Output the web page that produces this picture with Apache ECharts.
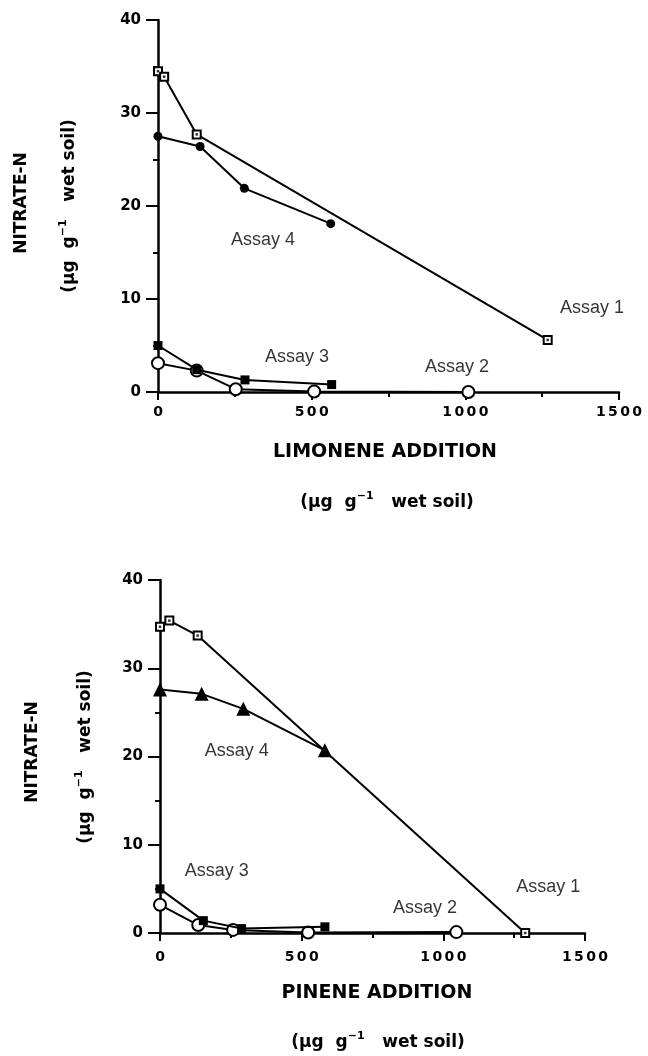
<!DOCTYPE html>
<html><head><meta charset="utf-8">
<script src="https://cdn.jsdelivr.net/npm/echarts/dist/echarts.min.js"></script>
<style>html,body{margin:0;padding:0;background:#fff}#c{width:648px;height:1056px}</style>
</head><body><div id="c"></div>
<script>
// ---------- DATA ----------
// Top panel: limonene addition (µg g-1 wet soil) vs nitrate-N
const limAssay1X = [0, 20, 126, 1268];
const limAssay1Y = [34.5, 33.9, 27.7, 5.6];
const limAssay4X = [0, 137, 281, 562];
const limAssay4Y = [27.5, 26.4, 21.9, 18.1];
const limAssay3X = [0, 126, 283, 565];
const limAssay3Y = [5.0, 2.4, 1.3, 0.8];
const limAssay2X = [0, 126, 253, 508, 1010];
const limAssay2Y = [3.1, 2.3, 0.3, 0.05, 0];
// Bottom panel: pinene addition
const pinAssay1X = [0, 33, 133, 1289];
const pinAssay1Y = [34.7, 35.4, 33.7, 0];
const pinAssay4X = [0, 147, 294, 582];
const pinAssay4Y = [27.6, 27.1, 25.4, 20.7];
const pinAssay3X = [0, 153, 288, 582];
const pinAssay3Y = [5.0, 1.4, 0.5, 0.7];
const pinAssay2X = [0, 135, 258, 523, 1046];
const pinAssay2Y = [3.2, 0.9, 0.35, 0.05, 0.1];
// Annotation labels (data coordinates)
const limLabels = [[342, 16.3, 'Assay 4'], [452, 3.8, 'Assay 3'], [973, 2.7, 'Assay 2'], [1412, 9.0, 'Assay 1']];
const pinLabels = [[271, 20.6, 'Assay 4'], [200, 7.0, 'Assay 3'], [935, 2.8, 'Assay 2'], [1370, 5.2, 'Assay 1']];
// Axis settings
const xMin = 0, xMax = 1500, xStep = 500;
const yMin = 0, yMax = 40, yStep = 10;
const topXTitle = 'LIMONENE ADDITION';
const botXTitle = 'PINENE ADDITION';
const yTitle = 'NITRATE-N';

// ---------- CHART ----------
const FONT = '"Liberation Sans", Arial, Helvetica, sans-serif';
const WIDE = '"DejaVu Sans", "Liberation Sans", Arial, sans-serif';
const pairs = (xs, ys) => xs.map((x, i) => [x, ys[i]]);

function xAxis(gi, margin) {
  return {
    type: 'value', gridIndex: gi, min: xMin, max: xMax, interval: xStep,
    axisLine: { show: true, onZero: false, lineStyle: { color: '#000', width: 2.5 } },
    axisTick: { show: true, length: 8, lineStyle: { color: '#000', width: 2 } },
    minorTick: { show: true, splitNumber: 2, length: 5, lineStyle: { color: '#000', width: 2 } },
    splitLine: { show: false }, minorSplitLine: { show: false },
    axisLabel: {
      margin: margin, color: '#000',
      formatter: v => String(v).split('').map(d => '{d|' + d + '}').join(''),
      rich: { d: { fontFamily: WIDE, fontWeight: 'bold', fontSize: 14, color: '#000', padding: [0, 1.2] } }
    }
  };
}
function yAxis(gi, size) {
  return {
    type: 'value', gridIndex: gi, min: yMin, max: yMax, interval: yStep,
    axisLine: { show: true, onZero: false, lineStyle: { color: '#000', width: 2.5 } },
    axisTick: { show: true, length: 12, lineStyle: { color: '#000', width: 2 } },
    minorTick: { show: true, splitNumber: 2, length: 5, lineStyle: { color: '#000', width: 2 } },
    splitLine: { show: false }, minorSplitLine: { show: false },
    axisLabel: { margin: 17, color: '#000', fontFamily: WIDE, fontWeight: 'bold', fontSize: size }
  };
}
function line(xs, ys, gi, symbol, size, filled, z) {
  return {
    type: 'line', xAxisIndex: gi, yAxisIndex: gi, data: pairs(xs, ys),
    symbol: symbol, symbolSize: size, showSymbol: true, animation: false, z: z,
    lineStyle: { color: '#000', width: 2 },
    itemStyle: { color: filled ? '#000' : '#fff', borderColor: '#000', borderWidth: filled ? 0 : 2, opacity: 1 },
    emphasis: { disabled: true }
  };
}
function dots(xs, ys, gi) {
  return {
    type: 'scatter', xAxisIndex: gi, yAxisIndex: gi, data: pairs(xs, ys),
    symbol: 'rect', symbolSize: 2.5, itemStyle: { color: '#000' }, z: 10, animation: false, silent: true
  };
}
function labels(arr, gi) {
  return {
    type: 'scatter', xAxisIndex: gi, yAxisIndex: gi, data: arr, symbolSize: 0, silent: true, animation: false,
    label: { show: true, position: 'inside', formatter: p => p.data[2], color: '#000', fontFamily: FONT, fontSize: 18 }
  };
}

const unitRich = {
  a: { fontFamily: WIDE, fontWeight: 'bold', fontSize: 17, color: '#000', lineHeight: 24 },
  s: { fontFamily: WIDE, fontWeight: 'bold', fontSize: 11, color: '#000', verticalAlign: 'top', lineHeight: 24 }
};
const unitText = '{a|(\u00b5g  g}{s|\u22121}{a|   wet soil)}';
function gText(x, y, text, rotate, rich, size) {
  return {
    type: 'text', x: x, y: y, rotation: rotate ? Math.PI / 2 : 0,
    style: rich ? { text: text, rich: rich, align: 'center', verticalAlign: 'middle' }
                : { text: text, fontFamily: WIDE, fontWeight: 'bold', fontSize: size, fill: '#000', align: 'center', verticalAlign: 'middle' }
  };
}

const chart = echarts.init(document.getElementById('c'), null, { renderer: 'canvas' });
chart.setOption({
  backgroundColor: '#fff',
  animation: false,
  grid: [
    { left: 158, top: 20, width: 461, height: 372 },
    { left: 160, top: 580, width: 425, height: 353 }
  ],
  xAxis: [xAxis(0, 13), xAxis(1, 17)],
  yAxis: [yAxis(0, 15), yAxis(1, 15)],
  series: [
    line(limAssay1X, limAssay1Y, 0, 'rect', 8, false, 3), dots(limAssay1X, limAssay1Y, 0),
    line(limAssay4X, limAssay4Y, 0, 'circle', 9, true, 3),
    line(limAssay2X, limAssay2Y, 0, 'circle', 12, false, 4),
    line(limAssay3X, limAssay3Y, 0, 'rect', 9, true, 5),
    labels(limLabels, 0),
    line(pinAssay1X, pinAssay1Y, 1, 'rect', 8, false, 3), dots(pinAssay1X, pinAssay1Y, 1),
    line(pinAssay4X, pinAssay4Y, 1, 'triangle', 14, true, 4),
    line(pinAssay2X, pinAssay2Y, 1, 'circle', 12, false, 4),
    line(pinAssay3X, pinAssay3Y, 1, 'rect', 9, true, 5),
    labels(pinLabels, 1)
  ],
  graphic: [
    gText(22, 203, yTitle, true, null, 17),
    gText(70, 206, unitText, true, unitRich),
    gText(385, 452, topXTitle, false, null, 19),
    gText(387, 503, unitText, false, unitRich),
    gText(33, 752, yTitle, true, null, 17),
    gText(86, 757, unitText, true, unitRich),
    gText(377, 993, botXTitle, false, null, 19),
    gText(378, 1043, unitText, false, unitRich)
  ]
});
</script></body></html>
